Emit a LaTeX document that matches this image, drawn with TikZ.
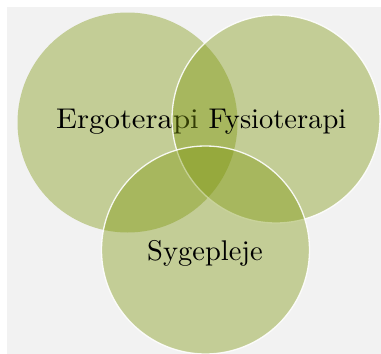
\documentclass[tikz,border=0pt]{standalone}
\usepackage{fontspec}
\setmainfont{lmroman10-regular}[Extension=.otf]
\usepackage{graphicx}
\definecolor{bgpaper}{RGB}{242,242,242}
\definecolor{venngreen}{RGB}{125,150,12}
\tikzset{
  venn/.style={fill=venngreen, fill opacity=0.4},
  vennedge/.style={venn, draw=white, draw opacity=0.9, line width=1.3pt},
  vlabel/.style={anchor=base, inner sep=0pt, text=black, text opacity=1,
    font=\fontsize{28.5}{34}\selectfont}
}
\begin{document}
\begin{tikzpicture}[x=1pt,y=-1pt]
  \useasboundingbox (0,0) rectangle (381,354);
  \fill[white] (0,0) rectangle (381,354);
  \fill[bgpaper] (7,7) rectangle (381,354);
  % left circle
  \path[venn] (127.5,122.5) circle (110pt);
  \node[vlabel] (ergo) at (127.5,128) {\scalebox{1.08}[1]{Ergoterapi}};
  % right circle
  \path[vennedge] (276,119) circle (104pt);
  \node[vlabel] (fysio) at (277.5,128) {Fysioterapi};
  % bottom circle
  \path[vennedge] (205.5,250) circle (104pt);
  \node[vlabel] (syge) at (205,260) {Sygepleje};
\end{tikzpicture}
\end{document}
